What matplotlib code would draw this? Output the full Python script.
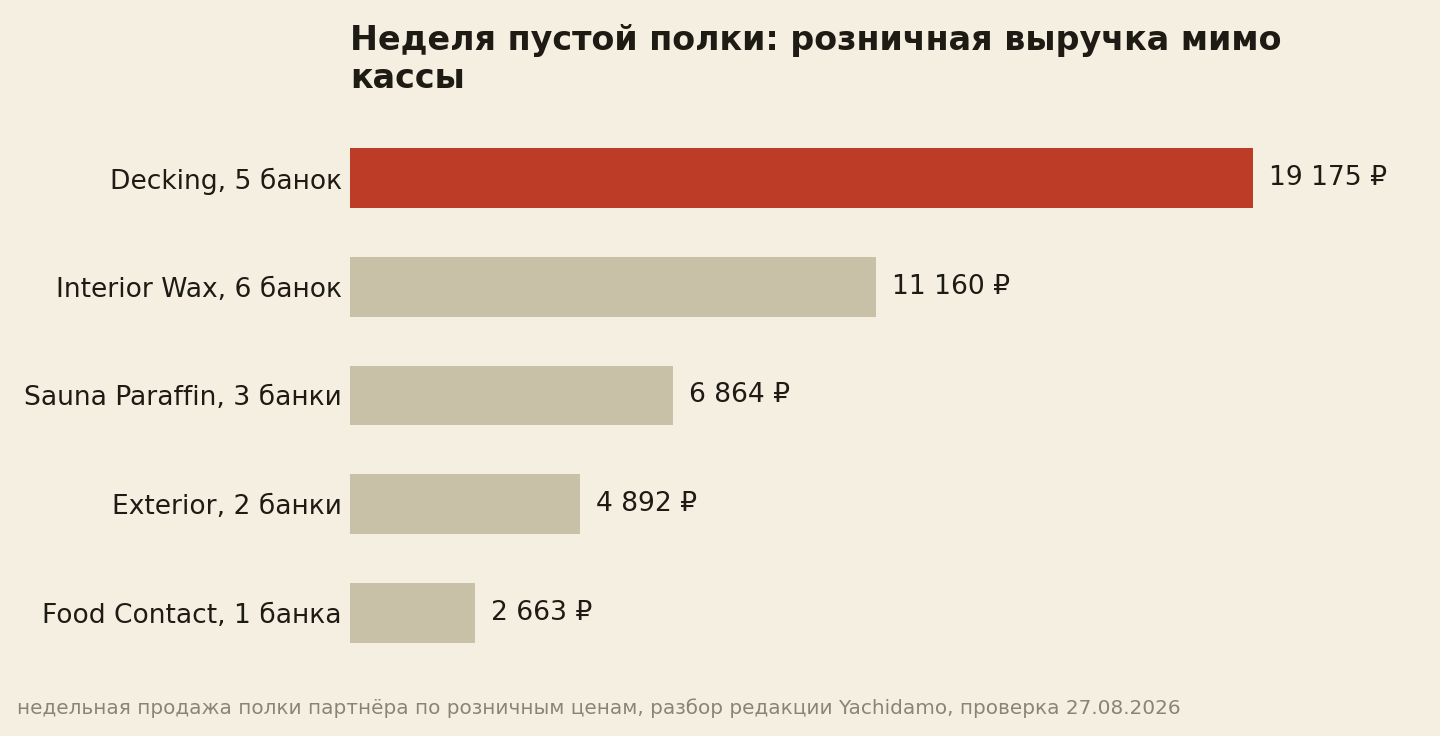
import matplotlib.pyplot as plt

categories = [
    "Decking, 5 банок",
    "Interior Wax, 6 банок",
    "Sauna Paraffin, 3 банки",
    "Exterior, 2 банки",
    "Food Contact, 1 банка",
]
revenue = [19175, 11160, 6864, 4892, 2663]
value_labels = ["19 175 ₽", "11 160 ₽", "6 864 ₽", "4 892 ₽", "2 663 ₽"]
highlight = 0

bg = "#F5EFE2"
ink = "#1E1B14"
colors = ["#BC3C28" if i == highlight else "#C9C0A8" for i in range(len(revenue))]

fig = plt.figure(figsize=(14.4, 7.36), dpi=100, facecolor=bg)
# axes placed in pixels: left 350, top 124, bottom 667
W, H = 1440, 736
left, right, top, bottom = 350, 1400, 123.6, 667.4
ax = fig.add_axes([left / W, 1 - bottom / H, (right - left) / W, (bottom - top) / H])
ax.set_facecolor(bg)

y = list(range(len(revenue)))
ax.barh(y, revenue, height=0.55, color=colors)
ax.set_ylim(len(revenue) - 0.5, -0.5)
xmax = max(revenue) * (right - left) / 903
ax.set_xlim(0, xmax)

ax.set_yticks(y)
ax.set_yticklabels(categories, fontsize=19.1, color=ink)
ax.tick_params(axis="y", length=0, pad=5.8)
ax.set_xticks([])
for s in ax.spines.values():
    s.set_visible(False)

pad = xmax * 16 / (right - left)
for yi, v, lab in zip(y, revenue, value_labels):
    ax.text(v + pad, yi, lab, va="center", ha="left", fontsize=19.1, color=ink)

fig.text(left / W, 1 - 24 / H, "Неделя пустой полки: розничная выручка мимо\nкассы",
         ha="left", va="top", fontsize=24, fontweight="bold", color=ink,
         linespacing=1.2)

fig.text(17 / W, 1 - 708 / H,
         "недельная продажа полки партнёра по розничным ценам, разбор редакции Yachidamo, проверка 27.08.2026",
         ha="left", va="center", fontsize=14.4, color="#8A8478")

plt.savefig("out.png", dpi=100, facecolor=bg)
